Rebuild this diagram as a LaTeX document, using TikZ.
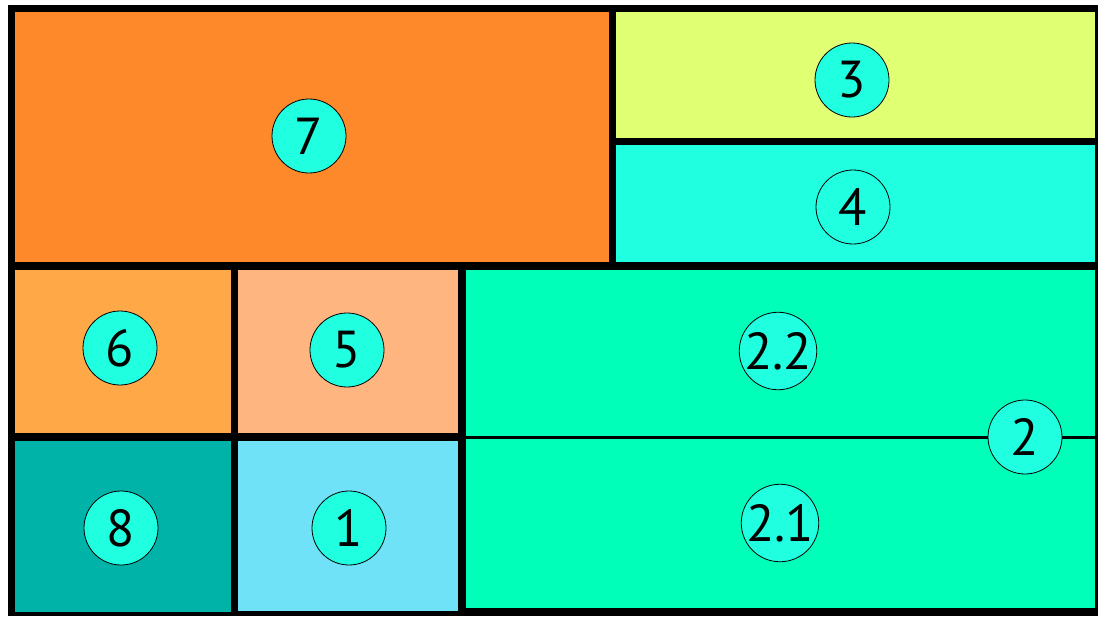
\documentclass[tikz,border=0pt]{standalone}
\usepackage{fontspec}
\setmainfont{PT Sans}
\usepackage{xcolor}
\usepackage{tikz}
\usetikzlibrary{positioning}

\definecolor{orangeA}{RGB}{253,137,42}
\definecolor{yellowA}{RGB}{224,255,114}
\definecolor{cyanA}{RGB}{32,255,224}
\definecolor{orangeB}{RGB}{255,168,71}
\definecolor{peachA}{RGB}{255,181,127}
\definecolor{tealA}{RGB}{0,179,168}
\definecolor{skyA}{RGB}{112,226,248}
\definecolor{greenA}{RGB}{0,255,184}

\begin{document}
\begin{tikzpicture}[
    x=1pt, y=-1pt,
    num/.style={draw, circle, fill=cyanA, line width=0.8pt,
                minimum size=74pt, inner sep=0pt,
                font=\fontsize{52}{52}\selectfont},
    divider/.style={line width=3pt, black},
  ]
    \useasboundingbox (0,0) rectangle (1100,616);
    % frame
    \fill[black] (8,5) rectangle (1098,616);
    % areas
    \fill[orangeA] (15,12) rectangle (609,262);
    \fill[yellowA] (616,12) rectangle (1095,138);
    \fill[cyanA]   (616,145) rectangle (1095,262);
    \fill[orangeB] (15,270) rectangle (231,433);
    \fill[peachA]  (238,270) rectangle (458,433);
    \fill[tealA]   (15,441) rectangle (231,612);
    \fill[skyA]    (238,441) rectangle (458,611);
    \fill[greenA]  (466,270) rectangle (1095,608);
    \coordinate (cutL) at (466,437);
    \coordinate (cutR) at (1095,437);
    \draw[divider] (cutL) -- (cutR);

    % labels
    \node[num] (n7) at (309,136) {7};
    \node[num] (n3) at (852,80) {3};
    \node[num] (n4) at (853,207) {4};
    \node[num] (n6) at (120,348) {6};
    \node[num] (n5) at (347,350) {5};
    \node[num] (n22) at (778,351) {2.2};
    \node[num] (n2) at (1025,437) {2};
    \node[num] (n8) at (121,528) {8};
    \node[num] (n1) at (349,528) {1};
    \node[num] (n21) at (780,523) {2.1};
  \end{tikzpicture}
\end{document}
